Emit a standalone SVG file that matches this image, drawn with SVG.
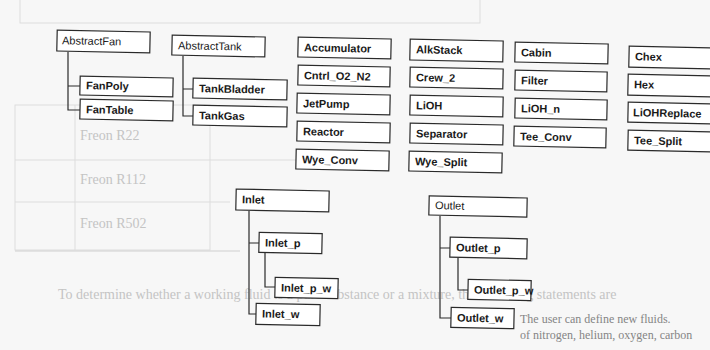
<svg xmlns="http://www.w3.org/2000/svg" width="710" height="350" viewBox="0 0 710 350">
<style>
.bx{fill:#fff;stroke:#2a2a2a;stroke-width:1.2}
.t{font-family:"Liberation Sans",Arial,sans-serif;font-size:11px;font-weight:bold;fill:#1a1a1a}
.tn{font-family:"Liberation Sans",Arial,sans-serif;font-size:11px;fill:#1a1a1a}
.c{fill:none;stroke:#2a2a2a;stroke-width:1.2}
.bg{font-family:"Liberation Serif","Times New Roman",serif;font-size:14px;fill:#c4c4c4}
.bgd{font-family:"Liberation Serif","Times New Roman",serif;font-size:12px;fill:#858585}
.bgl{stroke:#dddddd;stroke-width:1;fill:none}
</style>
<rect width="710" height="350" fill="#f7f7f7"/>
<g id="background">
<rect class="bgl" x="20" y="-5" width="460" height="28"/>
<rect class="bgl" x="15" y="105" width="195" height="145"/>
<line class="bgl" x1="15" y1="160" x2="300" y2="160"/>
<line class="bgl" x1="15" y1="202" x2="230" y2="202"/>
<line class="bgl" x1="75" y1="105" x2="75" y2="250"/>
<line x1="15" y1="251" x2="240" y2="251" stroke="#cfcfcf" stroke-width="1.2"/>
<text class="bg" x="80" y="140">Freon R22</text>
<text class="bg" x="80" y="184">Freon R112</text>
<text class="bg" x="80" y="228">Freon R502</text>
<text class="bg" x="58" y="299">To determine whether a working fluid is a pure substance or a mixture, the following statements are</text>
<text class="bgd" x="520" y="323">The user can define new fluids.</text>
<text class="bgd" x="520" y="339">of nitrogen, helium, oxygen, carbon</text>
</g>
<g id="connectors">
<path class="c" d="M68 52V110H80M68 86H80"/>
<path class="c" d="M183 56V116H193M183 89H193"/>
<path class="c" d="M249 211V314H256M249 243H259"/>
<path class="c" d="M265 253V287H275"/>
<path class="c" d="M440 216V318H451M440 248H450"/>
<path class="c" d="M458 258V290H468"/>
</g>
<g id="AbstractFan" transform="rotate(1.2 103 41)"><rect class="bx" x="57" y="31" width="93" height="21"/><text class="tn" x="62" y="45">AbstractFan</text></g>
<g id="FanPoly" transform="rotate(1.2 126 86)"><rect class="bx" x="80" y="77" width="93" height="19"/><text class="t" x="86" y="90">FanPoly</text></g>
<g id="FanTable" transform="rotate(1.2 126 110)"><rect class="bx" x="80" y="100" width="93" height="20"/><text class="t" x="86" y="114">FanTable</text></g>
<g id="AbstractTank" transform="rotate(1.2 218 46)"><rect class="bx" x="172" y="36" width="93" height="20"/><text class="tn" x="178" y="50">AbstractTank</text></g>
<g id="TankBladder" transform="rotate(1.2 240 89)"><rect class="bx" x="193" y="79" width="94" height="20"/><text class="t" x="199" y="93">TankBladder</text></g>
<g id="TankGas" transform="rotate(1.2 240 116)"><rect class="bx" x="193" y="106" width="94" height="20"/><text class="t" x="199" y="120">TankGas</text></g>
<g id="Accumulator" transform="rotate(1.2 344 48)"><rect class="bx" x="298" y="38" width="93" height="20"/><text class="t" x="304" y="52">Accumulator</text></g>
<g id="Cntrl_O2_N2" transform="rotate(1.2 344 76)"><rect class="bx" x="298" y="66" width="92" height="20"/><text class="t" x="304" y="80">Cntrl_O2_N2</text></g>
<g id="JetPump" transform="rotate(1.2 343 104)"><rect class="bx" x="297" y="94" width="93" height="20"/><text class="t" x="303" y="108">JetPump</text></g>
<g id="Reactor" transform="rotate(1.2 343 132)"><rect class="bx" x="297" y="122" width="93" height="20"/><text class="t" x="303" y="136">Reactor</text></g>
<g id="Wye_Conv" transform="rotate(1.2 342 160)"><rect class="bx" x="296" y="150" width="93" height="20"/><text class="t" x="302" y="164">Wye_Conv</text></g>
<g id="AlkStack" transform="rotate(1.2 456 50)"><rect class="bx" x="410" y="40" width="93" height="21"/><text class="t" x="416" y="54">AlkStack</text></g>
<g id="Crew_2" transform="rotate(1.2 456 78)"><rect class="bx" x="410" y="68" width="93" height="20"/><text class="t" x="416" y="82">Crew_2</text></g>
<g id="LiOH" transform="rotate(1.2 456 106)"><rect class="bx" x="410" y="96" width="93" height="20"/><text class="t" x="416" y="110">LiOH</text></g>
<g id="Separator" transform="rotate(1.2 456 134)"><rect class="bx" x="410" y="124" width="93" height="20"/><text class="t" x="416" y="138">Separator</text></g>
<g id="Wye_Split" transform="rotate(1.2 455 162)"><rect class="bx" x="409" y="152" width="93" height="20"/><text class="t" x="415" y="166">Wye_Split</text></g>
<g id="Cabin" transform="rotate(1.2 561 53)"><rect class="bx" x="515" y="43" width="93" height="20"/><text class="t" x="521" y="57">Cabin</text></g>
<g id="Filter" transform="rotate(1.2 561 81)"><rect class="bx" x="515" y="71" width="92" height="20"/><text class="t" x="521" y="85">Filter</text></g>
<g id="LiOH_n" transform="rotate(1.2 561 109)"><rect class="bx" x="515" y="99" width="92" height="20"/><text class="t" x="521" y="113">LiOH_n</text></g>
<g id="Tee_Conv" transform="rotate(1.2 560 137)"><rect class="bx" x="514" y="127" width="92" height="20"/><text class="t" x="520" y="141">Tee_Conv</text></g>
<g id="Chex" transform="rotate(1.2 671 57)"><rect class="bx" x="629" y="47" width="86" height="21"/><text class="t" x="635" y="61">Chex</text></g>
<g id="Hex" transform="rotate(1.2 671 85)"><rect class="bx" x="628" y="75" width="86" height="21"/><text class="t" x="634" y="89">Hex</text></g>
<g id="LiOHReplace" transform="rotate(1.2 671 113)"><rect class="bx" x="628" y="103" width="86" height="20"/><text class="t" x="633" y="117">LiOHReplace</text></g>
<g id="Tee_Split" transform="rotate(1.2 671 141)"><rect class="bx" x="628" y="131" width="86" height="20"/><text class="t" x="634" y="145">Tee_Split</text></g>
<g id="Inlet" transform="rotate(1.2 282 200)"><rect class="bx" x="236" y="190" width="93" height="21"/><text class="t" x="242" y="204">Inlet</text></g>
<g id="Inlet_p" transform="rotate(1.2 290 243)"><rect class="bx" x="259" y="233" width="63" height="20"/><text class="t" x="265" y="247">Inlet_p</text></g>
<g id="Inlet_p_w" transform="rotate(1.2 306 288)"><rect class="bx" x="275" y="278" width="63" height="20"/><text class="t" x="281" y="292">Inlet_p_w</text></g>
<g id="Inlet_w" transform="rotate(1.2 288 314)"><rect class="bx" x="256" y="304" width="64" height="21"/><text class="t" x="262" y="318">Inlet_w</text></g>
<g id="Outlet" transform="rotate(1.2 478 207)"><rect class="bx" x="429" y="197" width="98" height="19"/><text class="tn" x="435" y="210">Outlet</text></g>
<g id="Outlet_p" transform="rotate(1.2 488 248)"><rect class="bx" x="450" y="238" width="77" height="20"/><text class="t" x="456" y="252">Outlet_p</text></g>
<g id="Outlet_p_w" transform="rotate(1.2 499 290)"><rect class="bx" x="468" y="280" width="63" height="20"/><text class="t" x="474" y="294">Outlet_p_w</text></g>
<g id="Outlet_w" transform="rotate(1.2 482 318)"><rect class="bx" x="451" y="308" width="63" height="20"/><text class="t" x="457" y="322">Outlet_w</text></g>
</svg>
